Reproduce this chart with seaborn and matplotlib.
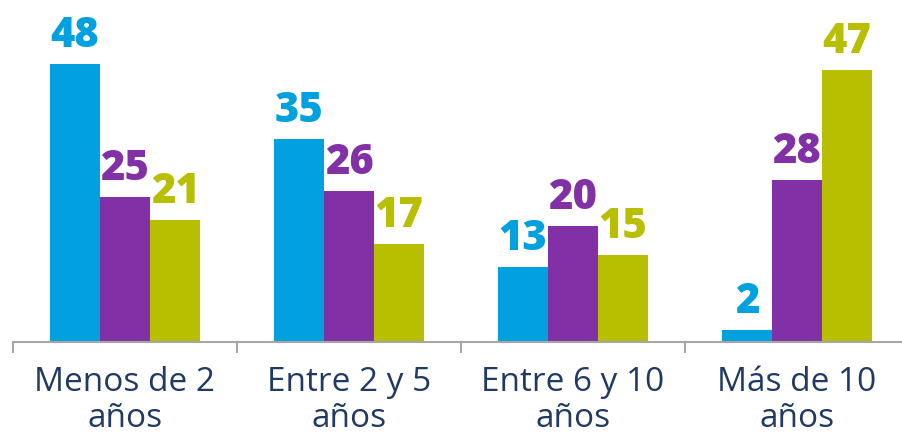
import matplotlib
matplotlib.use("Agg")
import matplotlib.pyplot as plt
import seaborn as sns
import pandas as pd

# Age-of-tenure groups and the three series shown for each
categories = ["Menos de 2\naños", "Entre 2 y 5\naños", "Entre 6 y 10\naños", "Más de 10\naños"]
series_names = ["Serie 1", "Serie 2", "Serie 3"]
serie_1 = [48, 35, 13, 2]
serie_2 = [25, 26, 20, 28]
serie_3 = [21, 17, 15, 47]

colors = ["#00a1de", "#8230a6", "#b7bf00"]
text_color = "#203a64"
axis_color = "#a6a6a6"

rows = []
for name, vals in zip(series_names, [serie_1, serie_2, serie_3]):
    for cat, v in zip(categories, vals):
        rows.append({"categoria": cat, "serie": name, "valor": v})
df = pd.DataFrame(rows)

sns.set_theme(style="white")
plt.rcParams["font.family"] = ["Open Sans", "DejaVu Sans"]

fig = plt.figure(figsize=(9.03, 4.36), dpi=100)
# axes spans slightly past the right edge so the last group sits like the others
ax = fig.add_axes([13 / 903, (436 - 342) / 436, 896 / 903, 342 / 436])

sns.barplot(data=df, x="categoria", y="valor", hue="serie", order=categories,
            hue_order=series_names, palette=colors, width=0.67, gap=0,
            saturation=1, legend=False, ax=ax, linewidth=0)

for container, c in zip(ax.containers, colors):
    ax.bar_label(container, labels=[f"{int(v)}" for v in container.datavalues],
                 padding=5, color=c, fontsize=30, fontweight="heavy")

ax.set_xlim(-0.5, 3.5)
ax.set_ylim(0, 342 / (278 / 48))
ax.set_xlabel("")
ax.set_ylabel("")
ax.set_yticks([])

for side in ["top", "right", "left"]:
    ax.spines[side].set_visible(False)
ax.spines["bottom"].set_color(axis_color)
ax.spines["bottom"].set_linewidth(1.5)

ax.set_xticks(range(len(categories)))
ax.set_xticklabels(categories, fontsize=24, color=text_color, linespacing=1.12)
ax.tick_params(axis="x", which="major", bottom=True, length=0, pad=17)
ax.set_xticks([-0.5, 0.5, 1.5, 2.5, 3.5], minor=True)
ax.tick_params(axis="x", which="minor", bottom=True, length=8, width=1.5,
               color=axis_color, direction="out")

fig.savefig("out.png", dpi=100)
